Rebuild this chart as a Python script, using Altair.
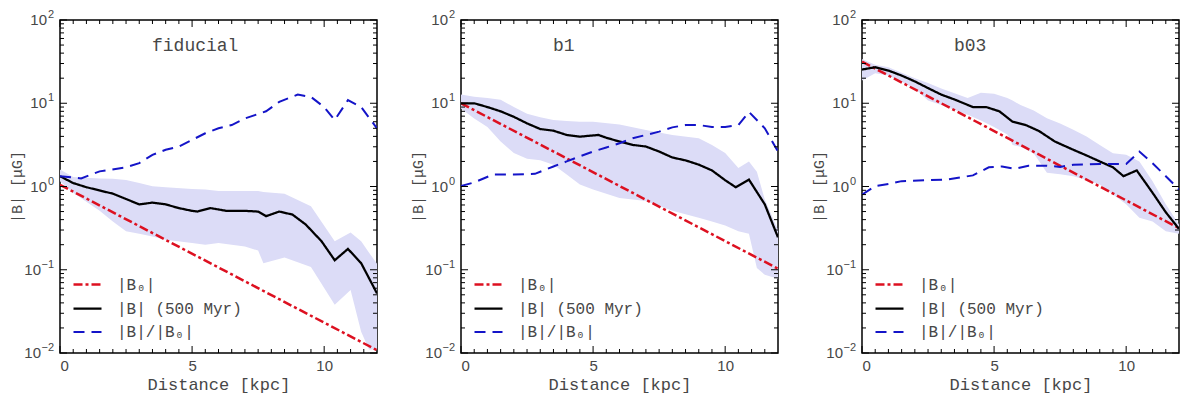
import altair as alt
import pandas as pd

# ---------------- data ----------------
S0 = "|B₀|"
S1 = "|B| (500 Myr)"
S2 = "|B|/|B₀|"

# fiducial
f_b0_x = [0, 12]
f_b0 = [1.05, 0.0108]
f_b_x = [0, 0.5, 1, 2, 3, 3.5, 4, 4.5, 5, 5.2, 5.7, 6.3, 7, 7.5, 7.8, 8.3, 8.8, 9.3, 9.9, 10.4, 10.9, 11.4, 12]
f_b = [1.33, 1.1, 0.98, 0.82, 0.61, 0.64, 0.61, 0.55, 0.51, 0.50, 0.55, 0.51, 0.51, 0.50, 0.44, 0.50, 0.46, 0.35, 0.22, 0.13, 0.178, 0.12, 0.052]
f_r_x = [0, 0.8, 1.5, 2.5, 3, 3.5, 4, 4.5, 5, 5.5, 6, 6.5, 7, 7.8, 8.3, 9, 9.5, 10, 10.4, 10.9, 11.4, 12]
f_r = [1.33, 1.25, 1.52, 1.7, 1.91, 2.4, 2.76, 3.02, 3.63, 4.36, 5.0, 5.47, 6.57, 8.0, 10.4, 12.7, 11.9, 9.0, 6.3, 10.9, 9.0, 5.0]
f_s_x = [0, 0.5, 1.5, 2, 2.5, 3, 3.5, 4, 5, 5.5, 6, 7, 7.5, 7.7, 8.5, 9.5, 10.4, 11, 11.4, 11.7, 12]
f_hi = [1.6, 1.3, 1.25, 1.24, 1.2, 1.1, 1.01, 0.98, 0.93, 0.92, 0.88, 0.88, 0.88, 0.86, 0.82, 0.58, 0.22, 0.28, 0.22, 0.16, 0.118]
f_lo = [1.16, 0.84, 0.51, 0.38, 0.29, 0.27, 0.25, 0.23, 0.21, 0.2, 0.21, 0.19, 0.17, 0.12, 0.14, 0.108, 0.038, 0.057, 0.018, 0.011, 0.011]

# b1
b1_b0_x = [0, 12]
b1_b0 = [10.0, 0.103]
b1_b_x = [0, 0.5, 1, 1.5, 2, 2.5, 3, 3.5, 4, 4.5, 5.2, 5.5, 6, 6.5, 7, 7.5, 8, 8.5, 9, 9.5, 10, 10.4, 10.9, 11.5, 12]
b1_b = [10, 10, 9.0, 8.0, 6.87, 5.73, 4.9, 4.68, 4.16, 3.97, 4.16, 3.85, 3.47, 3.16, 3.02, 2.63, 2.23, 2.06, 1.83, 1.56, 1.19, 0.98, 1.21, 0.61, 0.245]
b1_r_x = [0, 0.5, 1.2, 2, 2.8, 3.5, 4, 4.5, 5, 5.5, 6, 6.5, 7, 7.5, 8, 8.5, 9, 9.5, 10, 10.5, 10.9, 11.5, 12]
b1_r = [1.01, 1.12, 1.39, 1.39, 1.42, 1.74, 2.0, 2.3, 2.63, 2.94, 3.31, 3.8, 4.16, 4.56, 5.13, 5.47, 5.47, 5.2, 5.2, 5.47, 7.88, 5.0, 2.63]
b1_s_x = [0, 0.5, 1, 1.5, 2, 2.5, 3, 3.5, 4, 4.5, 5, 6, 7, 8, 9, 9.5, 10, 10.5, 10.9, 11.2, 11.5, 12]
b1_hi = [12.7, 12.0, 11.6, 11.0, 9.0, 7.5, 6.8, 6.3, 6.1, 6.0, 6.0, 5.57, 4.77, 4.16, 3.8, 3.16, 2.52, 1.67, 2.0, 1.5, 0.7, 0.3]
b1_lo = [8.65, 6.57, 5.2, 3.47, 2.52, 2.16, 2.06, 1.83, 1.39, 1.06, 0.92, 0.73, 0.67, 0.51, 0.42, 0.38, 0.34, 0.29, 0.27, 0.105, 0.087, 0.078]

# b03
b3_b0_x = [0, 12]
b3_b0 = [31.6, 0.316]
b3_b_x = [0, 0.5, 1, 1.5, 2, 2.5, 3, 3.5, 4.2, 4.7, 5.2, 5.7, 6.2, 6.7, 7.3, 8, 8.5, 9, 9.5, 9.9, 10.4, 11, 11.5, 12]
b3_b = [25.4, 27.1, 24.7, 21.5, 18.3, 15.2, 12.7, 11.1, 9.0, 9.0, 8.0, 6.0, 5.47, 4.64, 3.47, 2.76, 2.36, 2.0, 1.7, 1.33, 1.56, 0.84, 0.49, 0.31]
b3_r_x = [0, 0.5, 1, 1.5, 2.5, 3.2, 4.2, 4.8, 5.3, 5.8, 6.3, 7, 7.5, 8, 9, 9.5, 10, 10.5, 11, 11.5, 12]
b3_r = [0.80, 1.01, 1.07, 1.16, 1.19, 1.21, 1.36, 1.7, 1.74, 1.63, 1.78, 1.78, 1.72, 1.83, 1.86, 1.86, 1.86, 2.63, 1.9, 1.33, 0.92]
b3_s_x = [0, 0.5, 1, 2, 2.5, 3, 4, 4.5, 5, 5.5, 5.7, 6, 6.5, 7, 7.5, 8, 8.5, 9, 9.5, 10, 10.5, 11, 11.5, 12]
b3_hi = [34, 29, 27, 20, 17.5, 15, 11.6, 13.4, 13, 11.6, 10.8, 9.5, 8.2, 6.6, 5.7, 4.8, 4.0, 3.16, 2.5, 2.4, 2.0, 1.16, 0.61, 0.35]
b3_lo = [18.8, 23, 21.5, 15, 10.8, 9.5, 7.3, 6.2, 5.2, 4.2, 3.16, 3.0, 2.5, 1.46, 1.4, 1.33, 1.2, 1.06, 0.8, 0.61, 0.42, 0.38, 0.29, 0.27]

x_major = [0, 5, 10]
x_minor = [0.5, 1, 1.5, 2, 2.5, 3, 3.5, 4, 4.5, 5.5, 6, 6.5, 7, 7.5, 8, 8.5, 9, 9.5, 10.5, 11, 11.5]
y_major = [0.01, 0.1, 1, 10, 100]
y_exp = ["−2", "−1", "0", "1", "2"]
y_minor = [m * d for d in [0.01, 0.1, 1, 10] for m in range(2, 10)]

# ---------------- styling ----------------
W, H = 317, 333
RED, BLACK, BLUE, BAND = "#dd1020", "#000000", "#1414c8", "#dcdcf7"
TXT = "#474747"

xscale = alt.Scale(domain=[0, 12], nice=False, zero=False)
yscale = alt.Scale(type="log", domain=[0.01, 100], nice=False)

xaxis = alt.Axis(values=x_major, title="Distance [kpc]", ticks=False, domain=False, grid=False,
                 labelPadding=5, titlePadding=3, format="d",
                 labelFont="Liberation Sans", labelFontSize=15, labelColor=TXT,
                 titleFont="Liberation Mono", titleFontSize=17, titleFontWeight="normal", titleColor=TXT)
yaxis = alt.Axis(values=y_major, labels=False, title="|B|  [μG]", ticks=False, domain=False, grid=False,
                 minExtent=35, maxExtent=35, titlePadding=1,
                 titleFont="Liberation Mono", titleFontSize=15, titleFontWeight="normal", titleColor=TXT)


def X(f):
    return alt.X(f, type="quantitative", scale=xscale, axis=xaxis)


def Y(f):
    return alt.Y(f, type="quantitative", scale=yscale, axis=yaxis)


def tick_layers():
    out = []
    for vals, L in [(x_major, 7), (x_minor, 4)]:
        d = pd.DataFrame({"v": vals})
        out.append(alt.Chart(d).mark_rule(color="black", strokeWidth=1).encode(
            x=X("v"), y=alt.value(H - L), y2=alt.value(H)))
        out.append(alt.Chart(d).mark_rule(color="black", strokeWidth=1).encode(
            x=X("v"), y=alt.value(0), y2=alt.value(L)))
    for vals, L in [(y_major, 7), (y_minor, 4)]:
        d = pd.DataFrame({"v": vals})
        out.append(alt.Chart(d).mark_rule(color="black", strokeWidth=1).encode(
            y=Y("v"), x=alt.value(0), x2=alt.value(L)))
        out.append(alt.Chart(d).mark_rule(color="black", strokeWidth=1).encode(
            y=Y("v"), x=alt.value(W - L), x2=alt.value(W)))
    return out


def ylabel_layers():
    lab = pd.DataFrame({"v": y_major, "e": y_exp, "b": ["10"] * len(y_major)})
    neg = lab[lab["v"] < 1]
    pos = lab[lab["v"] >= 1]
    base = dict(font="Liberation Sans", color=TXT, baseline="middle", align="right")
    exp_layer = alt.Chart(lab).mark_text(fontSize=11, dy=-5, **base).encode(
        y=Y("v"), x=alt.value(-6), text="e:N")
    ten_neg = alt.Chart(neg).mark_text(fontSize=15, **base).encode(
        y=Y("v"), x=alt.value(-19), text="b:N")
    ten_pos = alt.Chart(pos).mark_text(fontSize=15, **base).encode(
        y=Y("v"), x=alt.value(-13), text="b:N")
    return [exp_layer, ten_neg, ten_pos]


LEG = dict(title=None, orient="none", legendX=12, legendY=249,
           symbolType="stroke", symbolSize=784, symbolStrokeWidth=2.5,
           labelFont="Liberation Mono", labelFontSize=16, labelColor=TXT,
           labelOffset=14, rowPadding=-6, padding=0)


def panel(name, b0x, b0, bx, b, rx, r, sx, hi, lo):
    rows = []
    for s, xs, vs in [(S0, b0x, b0), (S1, bx, b), (S2, rx, r)]:
        for i, (xv, vv) in enumerate(zip(xs, vs)):
            rows.append({"x": xv, "val": vv, "series": s, "i": i})
    lines = pd.DataFrame(rows)
    band = pd.DataFrame({"x": sx, "hi": hi, "lo": lo})

    band_layer = alt.Chart(band).mark_area(color=BAND, opacity=1, clip=True).encode(
        x=X("x"), y=Y("lo"), y2="hi")

    dom = [S0, S1, S2]
    line_layer = alt.Chart(lines).mark_line(clip=True, strokeCap="butt").encode(
        x=X("x"), y=Y("val"),
        order="i:Q",
        color=alt.Color("series:N", scale=alt.Scale(domain=dom, range=[RED, BLACK, BLUE]),
                        legend=alt.Legend(**LEG)),
        strokeDash=alt.StrokeDash("series:N", scale=alt.Scale(domain=dom, range=[[9, 3, 3, 3], [1, 0], [11, 7]]),
                                  legend=alt.Legend(**LEG)),
        strokeWidth=alt.StrokeWidth("series:N", scale=alt.Scale(domain=dom, range=[2.5, 2.0, 2.5]), legend=None),
    )

    label = alt.Chart(pd.DataFrame({"t": [name]})).mark_text(
        align="left", baseline="alphabetic", font="Liberation Mono", fontSize=18, color=TXT
    ).encode(x=alt.value(92), y=alt.value(31), text="t:N")

    return alt.layer(band_layer, line_layer, *tick_layers(), *ylabel_layers(), label).properties(width=W, height=H)


p1 = panel("fiducial", f_b0_x, f_b0, f_b_x, f_b, f_r_x, f_r, f_s_x, f_hi, f_lo)
p2 = panel("b1", b1_b0_x, b1_b0, b1_b_x, b1_b, b1_r_x, b1_r, b1_s_x, b1_hi, b1_lo)
p3 = panel("b03", b3_b0_x, b3_b0, b3_b_x, b3_b, b3_r_x, b3_r, b3_s_x, b3_hi, b3_lo)

chart = alt.hconcat(p1, p2, p3, spacing=30).resolve_scale(
    color="independent", strokeDash="independent", strokeWidth="independent"
).properties(padding=0, background="white").configure_view(stroke="black", strokeWidth=1.5)

chart.save("out.html", embed_options={"renderer": "svg", "actions": False})
